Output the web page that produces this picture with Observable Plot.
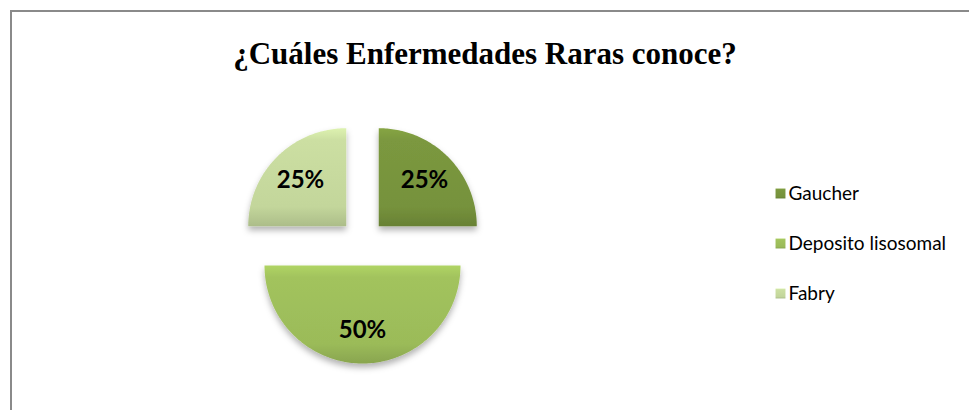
<!DOCTYPE html>
<html><head><meta charset="utf-8">
<script src="https://cdn.jsdelivr.net/npm/d3@7"></script>
<script src="https://cdn.jsdelivr.net/npm/@observablehq/plot@0.6"></script>
<style>
html,body{margin:0;padding:0;background:#fff;overflow:hidden;width:969px;height:410px;}
#frame{position:absolute;left:10px;top:10px;width:1000px;height:450px;border:2px solid #8a8a8a;box-sizing:border-box;}
#chart{position:absolute;left:0;top:0;}
</style></head><body>
<div id="frame"></div><div id="chart"></div>
<script>
// ---- data ----
const title = "¿Cuáles Enfermedades Raras conoce?";
const categories = ["Gaucher", "Deposito lisosomal", "Fabry"];
const values = [25, 50, 25];
const percentLabels = ["25%", "50%", "25%"];
const colors = ["#76923C", "#9BBB59", "#C3D69B"];

// ---- layout ----
const W = 969, H = 410;
const cx = 362, cy = 242, R = 98, explode = 23;
const labelFrac = 0.66;
const legendX = 780, legendY0 = 193, legendStep = 50;

const rows = categories.map((c, i) => ({cat: c, value: values[i], label: percentLabels[i], i}));
const arcs = d3.pie().sort(null).value(d => d.value)(rows);

const polys = [];
const labelPts = [];
arcs.forEach((p, i) => {
  const mid = (p.startAngle + p.endAngle) / 2;
  const ox = cx + explode * Math.sin(mid), oy = cy - explode * Math.cos(mid);
  polys.push({k: i, x: ox, y: oy});
  const n = Math.ceil((p.endAngle - p.startAngle) / (Math.PI / 180));
  for (let j = 0; j <= n; j++) {
    const a = p.startAngle + (p.endAngle - p.startAngle) * j / n;
    polys.push({k: i, x: ox + R * Math.sin(a), y: oy - R * Math.cos(a)});
  }
  labelPts.push({x: ox + labelFrac * R * Math.sin(mid), y: oy - labelFrac * R * Math.cos(mid), text: p.data.label});
});

const legendRows = rows.map((r, i) => ({x: legendX, y: legendY0 + i * legendStep, cat: r.cat, i}));

const chart = Plot.plot({
  width: W, height: H,
  margin: 0,
  style: {background: "transparent", overflow: "visible"},
  x: {domain: [0, W], range: [0, W], axis: null},
  y: {domain: [0, H], range: [0, H], axis: null},
  color: {type: "identity"},
  marks: [
    Plot.text([title], {x: () => W / 2, y: () => 54, text: d => d, fontFamily: "Liberation Serif", fontWeight: "bold", fontSize: 31, fill: "#000"}),
    Plot.line(polys, {x: "x", y: "y", z: "k", fill: d => `url(#grad${d.k})`, stroke: "none", curve: "linear-closed"}),
    Plot.text(labelPts, {x: "x", y: "y", text: "text", fontFamily: "Lato", fontWeight: "bold", fontSize: 24, fill: "#000"}),
    Plot.dot(legendRows, {x: "x", y: "y", symbol: "square", r: 5.6, fill: d => `url(#grad${d.i})`, stroke: "none"}),
    Plot.text(legendRows, {x: d => d.x + 8, y: "y", text: "cat", textAnchor: "start", fontFamily: "Lato", fontSize: 19, fill: "#000"})
  ]
});

// gradients and shadow (styling)
const svg = d3.select(chart);
const defs = svg.insert("defs", ":first-child");
colors.forEach((c, i) => {
  const g = defs.append("linearGradient").attr("id", `grad${i}`).attr("x1", 0).attr("y1", 0).attr("x2", 0).attr("y2", 1);
  g.append("stop").attr("offset", "0%").attr("stop-color", d3.color(c).brighter(0.35).formatHex());
  g.append("stop").attr("offset", "12%").attr("stop-color", d3.color(c).brighter(0.12).formatHex());
  g.append("stop").attr("offset", "80%").attr("stop-color", c);
  g.append("stop").attr("offset", "100%").attr("stop-color", d3.color(c).darker(0.35).formatHex());
});
const f = defs.append("filter").attr("id", "shadow").attr("x", "-20%").attr("y", "-20%").attr("width", "140%").attr("height", "150%");
f.append("feDropShadow").attr("dx", 0).attr("dy", 4).attr("stdDeviation", 3).attr("flood-color", "#000").attr("flood-opacity", 0.3);
svg.selectAll('g[aria-label="line"]').attr("filter", "url(#shadow)");

document.getElementById("chart").appendChild(chart);
</script>
</body></html>
